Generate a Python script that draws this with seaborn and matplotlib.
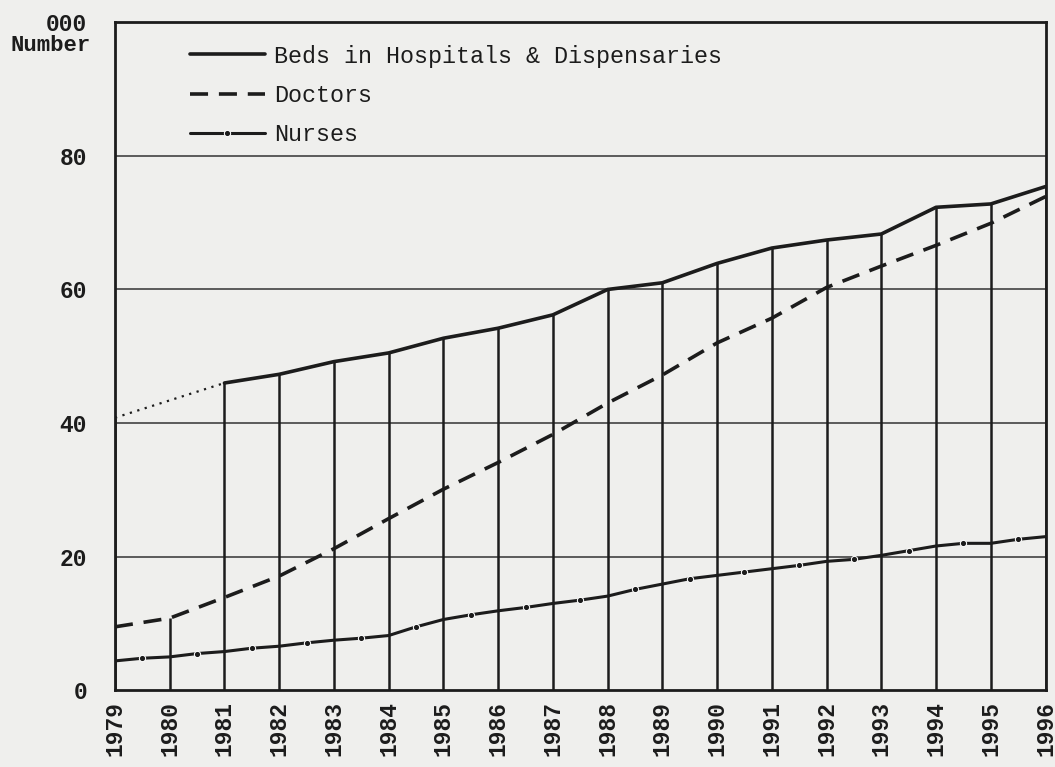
import numpy as np
import pandas as pd
import matplotlib
matplotlib.use("Agg")
import matplotlib.pyplot as plt
import seaborn as sns

years = list(range(1979, 1997))
beds = [40.8, np.nan, 46.0, 47.3, 49.2, 50.5, 52.7, 54.2, 56.2, 60.0,
        61.0, 63.9, 66.2, 67.4, 68.3, 72.3, 72.8, 75.4]
doctors = [9.5, 10.8, 13.9, 17.1, 21.2, 25.7, 30.1, 34.1, 38.3, 43.0,
           47.2, 52.0, 55.7, 60.3, 63.5, 66.6, 69.9, 73.9]
# nurses read at every half year (dots sit on the half years)
nurse_years = [1979 + i / 2 for i in range(35)]
nurses = [4.4, 4.8, 5.0, 5.5, 5.8, 6.3, 6.6, 7.1, 7.5, 7.8,
          8.2, 9.5, 10.6, 11.3, 11.9, 12.4, 13.0, 13.5, 14.1, 15.1,
          15.9, 16.7, 17.2, 17.7, 18.2, 18.7, 19.3, 19.6, 20.2, 20.9,
          21.6, 22.0, 22.0, 22.6, 23.0]
ytick_vals = [0, 20, 40, 60, 80, 100]
ytick_labels = ["0", "20", "40", "60", "80", "000"]
series_names = ["Beds in Hospitals & Dispensaries", "Doctors", "Nurses"]

df = pd.DataFrame({"year": years, "beds": beds, "doctors": doctors})
nf = pd.DataFrame({"year": nurse_years, "nurses": nurses})

sns.set_style("white")
plt.rcParams["font.family"] = ["Liberation Mono", "DejaVu Sans Mono"]
ink = "#1c1c1c"
bg = "#efefed"

fig = plt.figure(figsize=(10.55, 7.67), dpi=100, facecolor=bg)
ax = fig.add_axes([0.109, 0.100, 0.882, 0.871])
ax.set_facecolor(bg)

# vertical year lines up to the top curve
tops = df["beds"].fillna(df["doctors"])
ax.vlines(df["year"], 0, tops, color=ink, lw=1.8, zorder=2)
for y in [20, 40, 60, 80]:
    ax.axhline(y, color="#333333", lw=1.1, zorder=1)

# beds: dotted where 1980 is missing
gap = df.dropna(subset=["beds"]).iloc[:2]
sns.lineplot(data=gap, x="year", y="beds", ax=ax, color=ink, lw=1.6,
             linestyle=(0, (1, 2.5)), zorder=3)
sns.lineplot(data=df[df["year"] >= 1981], x="year", y="beds", ax=ax,
             color=ink, lw=2.6, zorder=3, label=series_names[0])
sns.lineplot(data=df, x="year", y="doctors", ax=ax, color=ink, lw=2.6,
             linestyle=(0, (5, 3)), zorder=3, label=series_names[1])
sns.lineplot(data=nf, x="year", y="nurses", ax=ax, color=ink, lw=2.2,
             marker="o", markersize=4.5, markevery=slice(1, None, 2),
             zorder=3, label=series_names[2])

ax.set_xlim(1979, 1996)
ax.set_ylim(0, 100)
ax.set_xticks(years)
ax.set_xticklabels([str(y) for y in years], rotation=90, fontsize=16.5,
                   fontweight="bold", color=ink)
ax.set_yticks(ytick_vals)
ax.set_yticklabels(ytick_labels, fontsize=16.5, fontweight="bold", color=ink)
ax.tick_params(axis="y", length=0, pad=20)
ax.tick_params(axis="x", length=0, pad=8)
ax.set_xlabel("")
ax.set_ylabel("")
for s in ax.spines.values():
    s.set_color(ink)
    s.set_linewidth(2)

fig.text(0.086, 0.941, "Number", ha="right", va="center", fontsize=16,
         fontweight="bold", color=ink)

leg = ax.legend(loc="upper left", bbox_to_anchor=(0.058, 0.998), frameon=False,
                fontsize=16.8, handlelength=3.2, handletextpad=0.4,
                labelspacing=0.7, numpoints=1)
for t in leg.get_texts():
    t.set_color(ink)

fig.savefig("out.png", dpi=100, facecolor=bg)
